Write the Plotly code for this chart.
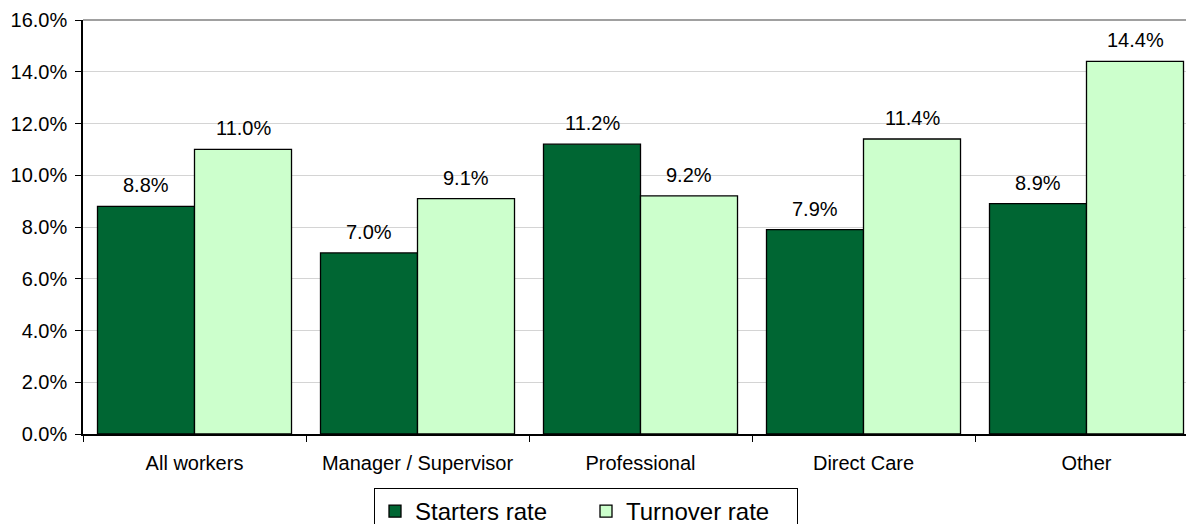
import plotly.graph_objects as go

categories = ["All workers", "Manager / Supervisor", "Professional", "Direct Care", "Other"]
starters_rate = [8.8, 7.0, 11.2, 7.9, 8.9]
turnover_rate = [11.0, 9.1, 9.2, 11.4, 14.4]
y_ticks = [0, 2, 4, 6, 8, 10, 12, 14, 16]

DARK = "#006633"
LIGHT = "#CCFFCC"
FONT = "Liberation Sans, Arial, sans-serif"

fig = go.Figure()
fig.add_trace(go.Bar(name="Starters rate", x=categories, y=starters_rate,
                     marker=dict(color=DARK, line=dict(color="#000000", width=1.3))))
fig.add_trace(go.Bar(name="Turnover rate", x=categories, y=turnover_rate,
                     marker=dict(color=LIGHT, line=dict(color="#000000", width=1.3))))

half = 48.5
for c, s, t in zip(categories, starters_rate, turnover_rate):
    for v, sh in ((s, -half), (t, half)):
        fig.add_annotation(x=c, y=v, xshift=sh, yshift=8, yanchor="bottom",
                           text=f"{v:.1f}%", showarrow=False,
                           font=dict(family=FONT, size=20, color="#000000"))

fig.add_shape(type="line", xref="paper", yref="paper", x0=0, x1=1, y0=1, y1=1,
              line=dict(color="#808080", width=1.5))

fig.update_layout(
    width=1186, height=524,
    margin=dict(l=83, r=0, t=20, b=90, autoexpand=False),
    paper_bgcolor="#ffffff", plot_bgcolor="#ffffff",
    barmode="group", bargap=0.13, bargroupgap=0,
    font=dict(family=FONT, size=20, color="#000000"),
    showlegend=True,
    legend=dict(orientation="h", xref="paper", yref="paper",
                x=(586 - 83) / 1103, xanchor="center", y=-(488 - 434) / 414, yanchor="top",
                bordercolor="#000000", borderwidth=1, bgcolor="#ffffff",
                font=dict(family=FONT, size=24, color="#000000"),
                entrywidth=166, entrywidthmode="pixels"),
    xaxis=dict(type="category", range=[-0.5, -0.5 + 1103 / 223], showgrid=False, automargin=False,
               showline=True, linecolor="#000000", linewidth=1.5,
               ticks="outside", tickson="boundaries", ticklen=6, tickcolor="#000000",
               ticklabelstandoff=10,
               tickfont=dict(family=FONT, size=20, color="#000000")),
    yaxis=dict(range=[0, 16], tickvals=y_ticks, ticktext=[f"{v:.1f}%" for v in y_ticks],
               showgrid=True, gridcolor="#d4d4d4", gridwidth=1, automargin=False,
               showline=True, linecolor="#000000", linewidth=1.5,
               ticks="outside", ticklen=6, tickcolor="#000000",
               ticklabelstandoff=4,
               zeroline=False,
               tickfont=dict(family=FONT, size=20, color="#000000")),
)

fig.write_html("out.html", config={"displayModeBar": False},
               post_script="document.body.style.margin='0';document.body.style.overflow='hidden';")
